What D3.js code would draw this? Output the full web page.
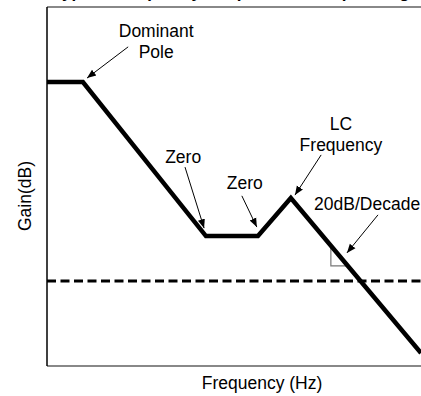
<!DOCTYPE html>
<html lang="en">
  <head>
    <meta charset="utf-8">
    <title>Gain vs Frequency</title>
    <style>
      body { margin: 0; background: #fff; }
      text { font-family: "Liberation Sans", Arial, sans-serif; fill: #000; }
    </style>
  </head>
  <body>
    <svg id="chart"></svg>

    <script src="https://cdn.jsdelivr.net/npm/d3@7"></script>
    <script>
      // breakpoints of the gain curve (x = log freq units, y = gain units, 0..100)
      const freqPts = [0, 9.6, 42.5, 56.4, 65.2, 100];
      const gainPts = [79.1, 79.1, 36.2, 36.2, 46.8, 3.6];
      const refGain = 23.7;   // dashed reference level

      // annotations: label lines, label position, arrow start/end
      const noteLabels = [["Dominant", "Pole"], ["Zero"], ["Zero"], ["LC", "Frequency"], ["20dB/Decade"]];
      const noteX = [29.2, 36.4, 52.9, 78.6, 85.6];
      const noteY = [93.3, 58.2, 51.0, 67.4, 45.1];
      const arrowFrom = [[21.7, 88.9], [36.9, 55.4], [52.1, 47.4], [73.3, 58.8], [88.5, 42.1]];
      const arrowTo = [[10.7, 80.2], [42.0, 38.4], [56.1, 38.7], [66.3, 47.6], [80.2, 31.5]];
      // little slope triangle
      const slopeMark = [[75.9, 33.1], [75.9, 27.9], [80.2, 27.9]];

      const W = 421, H = 396;
      const svg = d3.select('#chart').attr('width', W).attr('height', H);

      const x = d3.scaleLinear().domain([0, 100]).range([47, 421]);
      const y = d3.scaleLinear().domain([0, 100]).range([366, 7]);

      // title, cut off above the window like in the source image
      svg.append('text')
        .attr('x', 236).attr('y', -2.2)
        .attr('text-anchor', 'middle')
        .style('font-weight', 'bold').style('font-size', '17px')
        .text('Typical Frequency Response of Output Stage');

      svg.append('marker')
        .attr('id', 'arrow').attr('viewBox', '0 0 10 10')
        .attr('refX', 10).attr('refY', 5)
        .attr('markerWidth', 9).attr('markerHeight', 9)
        .attr('markerUnits', 'userSpaceOnUse')
        .attr('orient', 'auto')
        .append('path').attr('d', 'M0,1 L10,5 L0,9 Z').attr('fill', '#000');

      // frame
      svg.append('line')
        .attr('x1', x(0)).attr('x2', x(100)).attr('y1', y(100)).attr('y2', y(100))
        .attr('stroke', '#888').attr('stroke-width', 2);
      svg.append('line')
        .attr('x1', x(0)).attr('x2', x(100)).attr('y1', y(0)).attr('y2', y(0))
        .attr('stroke', '#888').attr('stroke-width', 2);
      svg.append('line')
        .attr('x1', x(0)).attr('x2', x(0)).attr('y1', y(100)).attr('y2', y(0))
        .attr('stroke', '#000').attr('stroke-width', 1.5);

      // dashed reference
      svg.append('line')
        .attr('x1', x(0)).attr('x2', x(100)).attr('y1', y(refGain)).attr('y2', y(refGain))
        .attr('stroke', '#000').attr('stroke-width', 3)
        .attr('stroke-dasharray', '9,4.5');

      // slope triangle
      svg.append('path')
        .attr('d', d3.line().x(d => x(d[0])).y(d => y(d[1]))(slopeMark))
        .attr('fill', 'none').attr('stroke', '#777').attr('stroke-width', 1.2);

      // gain curve
      const curve = freqPts.map((f, i) => [f, gainPts[i]]);
      svg.append('path')
        .attr('d', d3.line().x(d => x(d[0])).y(d => y(d[1]))(curve))
        .attr('fill', 'none').attr('stroke', '#000')
        .attr('stroke-width', 4.5).attr('stroke-linejoin', 'miter');

      // annotations
      noteLabels.forEach((lines, i) => {
        const t = svg.append('text')
          .attr('x', x(noteX[i])).attr('y', y(noteY[i]))
          .attr('text-anchor', 'middle').style('font-size', '17.5px');
        lines.forEach((s, j) => {
          t.append('tspan').attr('x', x(noteX[i]))
            .attr('dy', j == 0 ? '0.35em' : '1.2em').text(s);
        });
        svg.append('line')
          .attr('x1', x(arrowFrom[i][0])).attr('y1', y(arrowFrom[i][1]))
          .attr('x2', x(arrowTo[i][0])).attr('y2', y(arrowTo[i][1]))
          .attr('stroke', '#000').attr('stroke-width', 1)
          .attr('marker-end', 'url(#arrow)');
      });

      // axis titles
      svg.append('text')
        .attr('x', 262).attr('y', 389)
        .attr('text-anchor', 'middle').style('font-size', '17.5px')
        .text('Frequency (Hz)');
      svg.append('text')
        .attr('transform', 'translate(31,196) rotate(-90)')
        .attr('text-anchor', 'middle').style('font-size', '17.5px')
        .text('Gain(dB)');
    </script>
  </body>
</html>
